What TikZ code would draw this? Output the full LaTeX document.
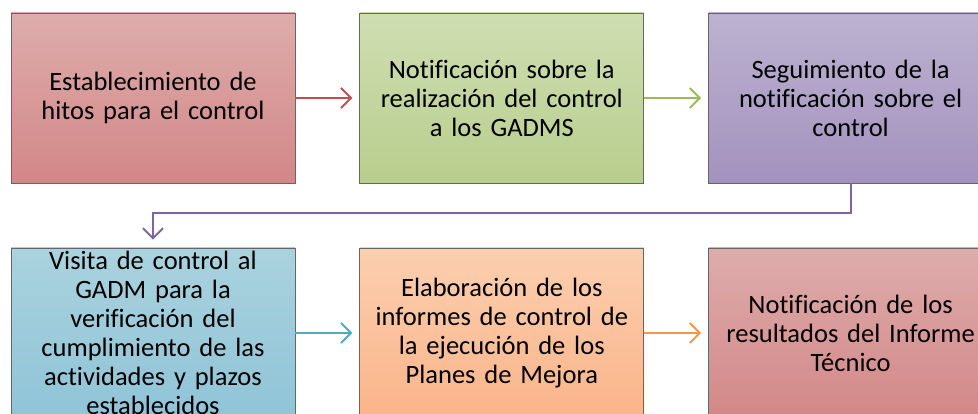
\documentclass[tikz,border=0pt]{standalone}
\usepackage{fontspec}
\setmainfont{Carlito}[Ligatures=NoCommon]
\usetikzlibrary{positioning,arrows.meta}
\definecolor{redtop}{RGB}{222,172,172}
\definecolor{redbot}{RGB}{211,135,135}
\definecolor{greentop}{RGB}{207,222,178}
\definecolor{greenbot}{RGB}{184,206,141}
\definecolor{purpletop}{RGB}{188,178,208}
\definecolor{purplebot}{RGB}{163,146,190}
\definecolor{bluetop}{RGB}{170,210,222}
\definecolor{bluebot}{RGB}{143,196,215}
\definecolor{orangetop}{RGB}{251,207,175}
\definecolor{orangebot}{RGB}{250,180,138}
\definecolor{redline}{RGB}{192,80,77}
\definecolor{greenline}{RGB}{155,187,89}
\definecolor{purpleline}{RGB}{128,100,162}
\definecolor{blueline}{RGB}{75,172,198}
\definecolor{orangeline}{RGB}{247,150,70}

\begin{document}
\begin{tikzpicture}[x=1pt,y=1pt,
  box/.style={draw=black!60, line width=0.8pt, minimum width=284pt, minimum height=170pt,
    text width=270pt, align=center, inner sep=0pt, font=\fontsize{26.5}{29}\selectfont},
  link/.style={line width=2pt, -{Straight Barb[length=10pt,width=20pt]}, shorten >=7pt}]
\useasboundingbox (0,0) rectangle (978,413);
% upper row
\node[box, top color=redtop, bottom color=redbot] (hitos) at (153,315)
  {Establecimiento de\\hitos para el control};
\node[box, top color=greentop, bottom color=greenbot, right=64pt of hitos] (notif)
  {Notificación sobre la\\realización del control\\a los GADMS};
\node[box, top color=purpletop, bottom color=purplebot, right=64pt of notif] (seguim)
  {Seguimiento de la\\notificación sobre el\\control};
% lower row
\node[box, top color=bluetop, bottom color=bluebot] (visita) at (153,80)
  {Visita de control al\\GADM para la\\verificación del\\cumplimiento de las\\actividades y plazos\\establecidos};
\node[box, top color=orangetop, bottom color=orangebot, right=64pt of visita] (informes)
  {Elaboración de los\\informes de control de\\la ejecución de los\\Planes de Mejora};
\node[box, top color=redtop, bottom color=redbot, right=64pt of informes] (result)
  {Notificación de los\\resultados del Informe\\Técnico};
% connectors
\draw[link, redline] (hitos) -- (notif);
\draw[link, greenline] (notif) -- (seguim);
\draw[link, purpleline, shorten >=8pt] (seguim.south) -- ++(0,-30) -| (visita.north);
\draw[link, blueline] (visita) -- (informes);
\draw[link, orangeline] (informes) -- (result);
\end{tikzpicture}
\end{document}
